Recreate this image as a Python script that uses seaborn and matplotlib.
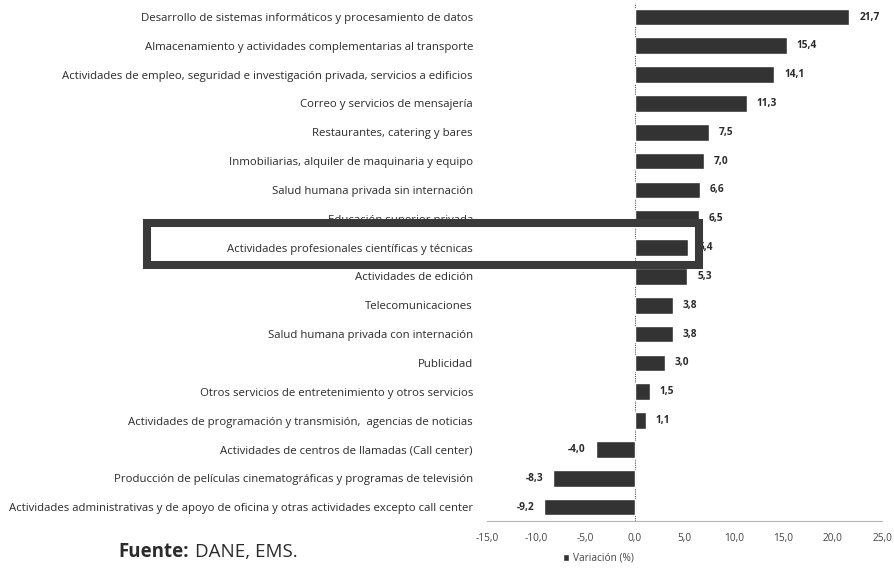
import matplotlib
matplotlib.use("Agg")
import matplotlib.pyplot as plt
import matplotlib.patches as patches
from matplotlib.ticker import FuncFormatter
import pandas as pd
import seaborn as sns

categorias = [
    "Desarrollo de sistemas informáticos y procesamiento de datos",
    "Almacenamiento y actividades complementarias al transporte",
    "Actividades de empleo, seguridad e investigación privada, servicios a edificios",
    "Correo y servicios de mensajería",
    "Restaurantes, catering y bares",
    "Inmobiliarias, alquiler de maquinaria y equipo",
    "Salud humana privada sin internación",
    "Educación superior privada",
    "Actividades profesionales científicas y técnicas",
    "Actividades de edición",
    "Telecomunicaciones",
    "Salud humana privada con internación",
    "Publicidad",
    "Otros servicios de entretenimiento y otros servicios",
    "Actividades de programación y transmisión,  agencias de noticias",
    "Actividades de centros de llamadas (Call center)",
    "Producción de películas cinematográficas y programas de televisión",
    "Actividades administrativas y de apoyo de oficina y otras actividades excepto call center",
]
variacion = [21.7, 15.4, 14.1, 11.3, 7.5, 7.0, 6.6, 6.5, 5.4, 5.3,
             3.8, 3.8, 3.0, 1.5, 1.1, -4.0, -8.3, -9.2]
x_ticks = [-15, -10, -5, 0, 5, 10, 15, 20, 25]

df = pd.DataFrame({"categoria": categorias, "variacion": variacion})

sns.set_theme(style="white")
plt.rcParams["font.family"] = ["Open Sans", "DejaVu Sans"]

bar_color = "#333333"
text_color = "#2b2b2b"

fig = plt.figure(figsize=(8.95, 5.68), dpi=100)
ax = fig.add_axes([0.544, 0.082, 0.4415, 0.9134])

sns.barplot(data=df, x="variacion", y="categoria", color=bar_color,
            width=0.58, label="Variación (%)", ax=ax, saturation=1)

ax.set_xlim(-15, 25)
ax.set_xticks(x_ticks)
ax.xaxis.set_major_formatter(FuncFormatter(lambda v, p: f"{v:.1f}".replace(".", ",")))
ax.tick_params(axis="x", length=0, labelsize=7.3, colors="#444444", pad=8)
ax.tick_params(axis="y", length=0, labelsize=8.2, colors=text_color, pad=10)
ax.set_xlabel("")
ax.set_ylabel("")

for s in ["top", "right", "left"]:
    ax.spines[s].set_visible(False)
ax.spines["bottom"].set_color("#b5b5b5")
ax.spines["bottom"].set_linestyle((0, (2, 1)))
ax.spines["bottom"].set_linewidth(0.8)
ax.axvline(0, color="#555555", lw=0.8, ls=(0, (1, 1)), zorder=0)

# value labels
for i, v in enumerate(variacion):
    txt = f"{v:.1f}".replace(".", ",")
    if v >= 0:
        ax.annotate(txt, (v, i), xytext=(7, 0), textcoords="offset points",
                    ha="left", va="center", fontsize=7.3, fontweight="bold",
                    color=text_color)
    else:
        ax.annotate(txt, (v, i), xytext=(-7, 0), textcoords="offset points",
                    ha="right", va="center", fontsize=7.3, fontweight="bold",
                    color=text_color)

# legend
ax.legend(loc="upper left", bbox_to_anchor=(0.17, -0.043), frameon=False,
          fontsize=7.3, handlelength=0.6, handleheight=0.6, handletextpad=0.4,
          labelcolor="#444444")

# highlight box
rect = patches.Rectangle((0.164, 0.5335), 0.617, 0.074, transform=fig.transFigure,
                         fill=False, edgecolor="#3a3a3a", lw=5.8, clip_on=False,
                         zorder=5)
fig.add_artist(rect)

# source note
t1 = fig.text(0.132, 0.028, "Fuente:", fontsize=13.5, fontweight="bold",
              color=text_color, ha="left", va="center")
fig.canvas.draw()
bb = t1.get_window_extent()
fig.text((bb.x1 + 6) / fig.bbox.width, 0.028, "DANE, EMS.", fontsize=13.5,
         color=text_color, ha="left", va="center")

fig.savefig("out.png", dpi=100)
